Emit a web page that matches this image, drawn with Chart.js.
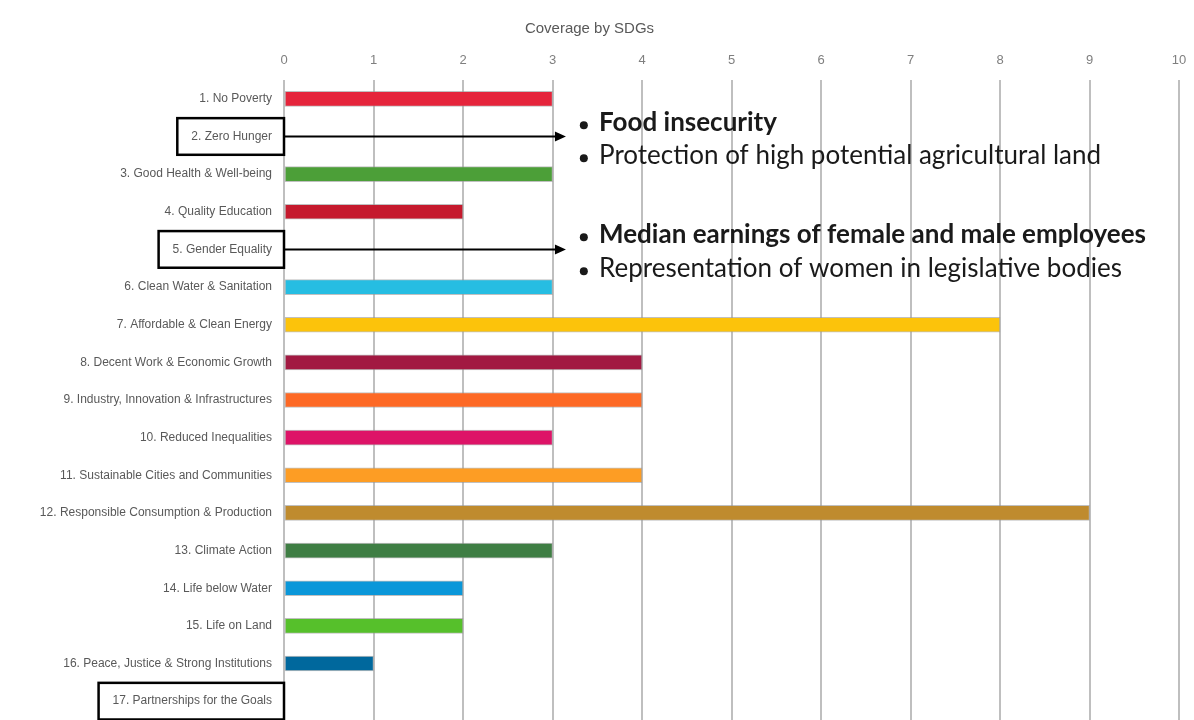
<!DOCTYPE html>
<html>
<head>
<meta charset="utf-8">
<script src="https://cdn.jsdelivr.net/npm/chart.js@4.4.1/dist/chart.umd.min.js"></script>
<style>
  html, body { margin: 0; padding: 0; background: #fff; overflow: hidden; }
  #wrap { width: 1194px; height: 720px; }
</style>
</head>
<body>
<div id="wrap"><canvas id="sdgChart"></canvas></div>
<script>
const goals = [
    '1. No Poverty', '2. Zero Hunger', '3. Good Health & Well-being', '4. Quality Education',
    '5. Gender Equality', '6. Clean Water & Sanitation', '7. Affordable & Clean Energy',
    '8. Decent Work & Economic Growth', '9. Industry, Innovation & Infrastructures',
    '10. Reduced Inequalities', '11. Sustainable Cities and Communities',
    '12. Responsible Consumption & Production', '13. Climate Action', '14. Life below Water',
    '15. Life on Land', '16. Peace, Justice & Strong Institutions', '17. Partnerships for the Goals'
];
const coverage = [3, 0, 3, 2, 0, 3, 8, 4, 4, 3, 4, 9, 3, 2, 2, 1, 0];
const goalColors = [
    '#E5243B', '#DDA63A', '#4C9F38', '#C5192D', '#FF3A21', '#26BDE2', '#FCC30B', '#A21942',
    '#FD6925', '#DD1367', '#FD9D24', '#BF8B2E', '#3F7E44', '#0A97D9', '#56C02B', '#00689D', '#19486A'
];
const xTicks = [0, 1, 2, 3, 4, 5, 6, 7, 8, 9, 10];

// boxed goals and the notes attached to them
const boxedGoals = [1, 4, 16];
const arrowGoals = [1, 4];
const noteLines = [
    'Food insecurity',
    'Protection of high potential agricultural land',
    'Median earnings of female and male employees',
    'Representation of women in legislative bodies'
];
const noteRows = [0.62, 1.5, 3.6, 4.5];
const noteBold = [true, false, true, false];

const labelFont = "12px 'Liberation Sans Narrow', 'Arial Narrow', 'Liberation Sans', sans-serif";

const annotations = {
    id: 'annotations',
    afterDatasetsDraw(chart) {
        const ctx = chart.ctx;
        const x = chart.scales.x;
        const y = chart.scales.y;
        const step = y.getPixelForValue(1) - y.getPixelForValue(0);
        ctx.save();

        // boxes round some labels
        ctx.font = labelFont;
        ctx.strokeStyle = '#000';
        ctx.lineWidth = 2.5;
        boxedGoals.forEach(i => {
            const w = ctx.measureText(goals[i]).width;
            const right = x.left;
            const left = right - 12 - w - 14;
            const cy = y.getPixelForValue(i);
            ctx.strokeRect(left, cy - step / 2 + 0.5, right - left, step - 1);
        });

        // arrows from the boxes to the notes
        const tip = x.getPixelForValue(3.15);
        ctx.lineWidth = 2;
        ctx.fillStyle = '#000';
        arrowGoals.forEach(i => {
            const cy = y.getPixelForValue(i);
            ctx.beginPath();
            ctx.moveTo(x.left, cy);
            ctx.lineTo(tip - 8, cy);
            ctx.stroke();
            ctx.beginPath();
            ctx.moveTo(tip, cy);
            ctx.lineTo(tip - 11, cy - 5);
            ctx.lineTo(tip - 11, cy + 5);
            ctx.closePath();
            ctx.fill();
        });

        // bullet notes
        const bx = x.getPixelForValue(3.35);
        const tx = x.getPixelForValue(3.52);
        ctx.fillStyle = '#1a1a1a';
        ctx.textBaseline = 'middle';
        noteLines.forEach((t, k) => {
            const cy = y.getPixelForValue(noteRows[k]);
            ctx.beginPath();
            ctx.arc(bx, cy + 3, 4, 0, Math.PI * 2);
            ctx.fill();
            ctx.font = (noteBold[k] ? 'bold ' : '') + "26px Lato, 'Open Sans', sans-serif";
            ctx.fillText(t, tx, cy);
        });
        ctx.restore();
    }
};

new Chart(document.getElementById('sdgChart').getContext('2d'), {
    type: 'bar',
    data: {
        labels: goals,
        datasets: [{
            label: 'Coverage by SDGs',
            data: coverage,
            backgroundColor: goalColors,
            borderColor: 'rgba(150, 150, 150, 0.6)',
            borderWidth: 1,
            borderSkipped: false,
            barThickness: 15
        }]
    },
    options: {
        indexAxis: 'y',
        responsive: true,
        maintainAspectRatio: false,
        animation: false,
        layout: { padding: { top: 0, right: 15, bottom: 0, left: 0 } },
        plugins: {
            legend: { display: false },
            tooltip: { enabled: false },
            title: {
                display: true,
                text: 'Coverage by SDGs',
                color: '#595959',
                font: { family: "'Liberation Sans', Arial, sans-serif", size: 15, weight: 'normal' },
                padding: { top: 20, bottom: 0 }
            }
        },
        scales: {
            x: {
                position: 'top',
                min: 0,
                max: 10,
                afterBuildTicks: (scale) => { scale.ticks = xTicks.map(v => ({ value: v })); },
                afterFit: (scale) => {
                    scale.height = 42;
                    scale.paddingLeft = 0;
                    scale.paddingRight = 0;
                },
                grid: { color: '#bfbfbf', lineWidth: 2, drawTicks: false },
                border: { display: false },
                ticks: {
                    color: '#7f7f7f',
                    padding: 12,
                    font: { family: "'Liberation Sans Narrow', 'Arial Narrow', 'Liberation Sans', sans-serif", size: 13 }
                }
            },
            y: {
                afterFit: (scale) => {
                    scale.width = 284;
                    scale.paddingTop = 0;
                    scale.paddingBottom = 0;
                },
                grid: { display: false, drawTicks: false },
                border: { display: false },
                ticks: {
                    color: '#595959',
                    padding: 12,
                    autoSkip: false,
                    font: { family: "'Liberation Sans Narrow', 'Arial Narrow', 'Liberation Sans', sans-serif", size: 12 }
                }
            }
        }
    },
    plugins: [annotations]
});
</script>
</body>
</html>
